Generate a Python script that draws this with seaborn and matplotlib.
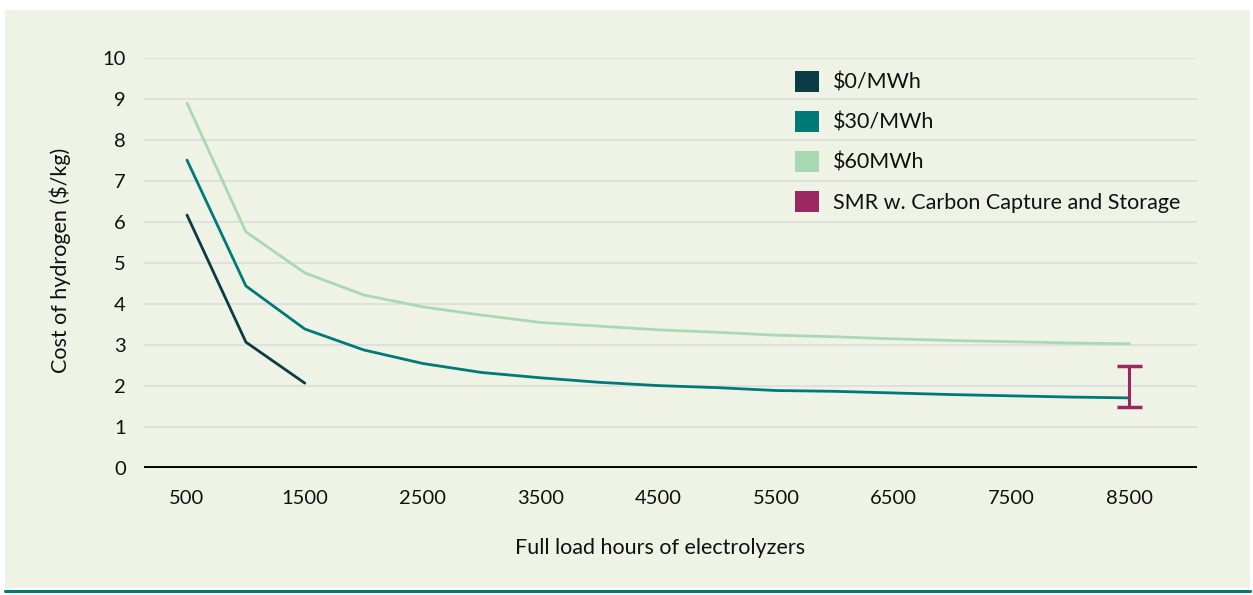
import matplotlib
matplotlib.use("Agg")
import matplotlib.pyplot as plt
from matplotlib.patches import Patch, Rectangle
from matplotlib.lines import Line2D
import seaborn as sns
import pandas as pd

# ---- data ----
hours = [500, 1000, 1500, 2000, 2500, 3000, 3500, 4000, 4500, 5000,
         5500, 6000, 6500, 7000, 7500, 8000, 8500]
cost_0 = [6.17, 3.07, 2.07]
cost_30 = [7.51, 4.44, 3.39, 2.88, 2.55, 2.33, 2.20, 2.09, 2.01, 1.96,
           1.89, 1.87, 1.83, 1.79, 1.76, 1.73, 1.71]
cost_60 = [8.90, 5.76, 4.76, 4.22, 3.93, 3.73, 3.55, 3.46, 3.37, 3.31,
           3.24, 3.20, 3.15, 3.11, 3.08, 3.05, 3.03]
smr_hours = [8500]
smr_low = [1.5]
smr_high = [2.5]
xtick_labels = [500, 1500, 2500, 3500, 4500, 5500, 6500, 7500, 8500]
yticks = list(range(0, 11))
series_labels = ["$0/MWh", "$30/MWh", "$60MWh", "SMR w. Carbon Capture and Storage"]

C0 = "#0b3b45"
C30 = "#007a78"
C60 = "#a9d9b2"
CSMR = "#9b2761"
BG = "#eff3e6"

sns.set_theme(style="white")
plt.rcParams["font.family"] = ["Lato", "DejaVu Sans"]

fig = plt.figure(figsize=(12.53, 5.95), dpi=100)
fig.patch.set_facecolor("white")
fig.add_artist(Rectangle((5 / 1253, 1 - 588 / 595), (1250 - 5) / 1253, (588 - 10) / 595,
                         transform=fig.transFigure, facecolor=BG, edgecolor="none", zorder=-10))
fig.add_artist(Line2D([5 / 1253, 1250 / 1253], [1 - 590.5 / 595] * 2,
                      transform=fig.transFigure, color=C30, lw=2.2))

ax = fig.add_axes([144 / 1253, 1 - 468 / 595, (1197 - 144) / 1253, (468 - 58) / 595])
ax.set_facecolor("none")

df = pd.concat([
    pd.DataFrame({"h": hours[:len(cost_0)], "c": cost_0, "s": series_labels[0]}),
    pd.DataFrame({"h": hours, "c": cost_30, "s": series_labels[1]}),
    pd.DataFrame({"h": hours, "c": cost_60, "s": series_labels[2]}),
])
sns.lineplot(data=df, x="h", y="c", hue="s",
             palette={series_labels[0]: C0, series_labels[1]: C30, series_labels[2]: C60},
             linewidth=2.0, ax=ax, legend=False, zorder=3)

mid = [(a + b) / 2 for a, b in zip(smr_low, smr_high)]
err = [(b - a) / 2 for a, b in zip(smr_low, smr_high)]
ax.errorbar(smr_hours, mid, yerr=err, fmt="none", ecolor=CSMR, elinewidth=2.2,
            capsize=9, capthick=2.5, zorder=4)

ax.set_xlim(135, 9074)
ax.set_ylim(0, 10)
ax.set_yticks(yticks)
ax.set_xticks(xtick_labels)
ax.set_xticklabels([str(v) for v in xtick_labels])
ax.grid(axis="y", color="#dcdedb", lw=1.3, zorder=0)
ax.grid(axis="x", visible=False)
ax.axhline(0, color="black", lw=2.8, zorder=2)
for s in ax.spines.values():
    s.set_visible(False)
ax.tick_params(axis="both", length=0, labelsize=14.5, colors="#111111")
ax.tick_params(axis="y", pad=13)
ax.tick_params(axis="x", pad=16)
ax.set_xlabel("Full load hours of electrolyzers", fontsize=15.5, color="#111111")
ax.xaxis.set_label_coords((660 - 144) / (1197 - 144), -(548 - 468) / (468 - 58))
ax.set_ylabel("Cost of hydrogen ($/kg)", fontsize=15.5, color="#111111")
ax.yaxis.set_label_coords(-(144 - 60) / (1197 - 144), (468 - 260) / (468 - 58))
ax.yaxis.label.set_va("center")
ax.xaxis.label.set_va("center")

handles = [Patch(facecolor=c, edgecolor="none") for c in (C0, C30, C60, CSMR)]
leg = ax.legend(handles, series_labels, loc="upper left",
                bbox_to_anchor=(795 / 1253, 1 - 71 / 595), bbox_transform=fig.transFigure,
                frameon=False, fontsize=15.5, handlelength=1.1, handleheight=1.1,
                handletextpad=0.65, labelspacing=0.85, borderaxespad=0, borderpad=0)
for t in leg.get_texts():
    t.set_color("#111111")

fig.savefig("out.png", dpi=100, facecolor=fig.get_facecolor())
